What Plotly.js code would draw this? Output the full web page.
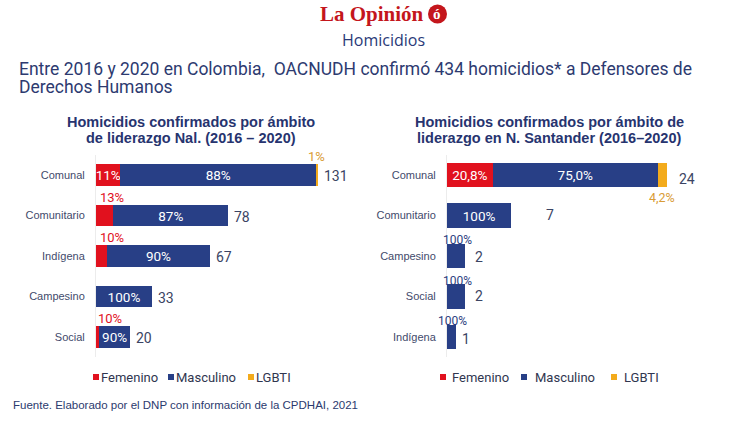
<!DOCTYPE html>
<html>
<head>
<meta charset="utf-8">
<script src="https://cdn.plot.ly/plotly-3.0.1.min.js"></script>
<style>html,body{margin:0;padding:0;background:#fff;}#chart{width:747px;height:427px;}</style>
</head>
<body>
<div id="chart"></div>
<script>
// ---- data ----
const seriesNames = ['Femenino', 'Masculino', 'LGBTI'];
const leftCats = ['Comunal', 'Comunitario', 'Indígena', 'Campesino', 'Social'];
const leftTotals = [131, 78, 67, 33, 20];
const leftFem = [11, 13, 10, 0, 10];
const leftMasc = [88, 87, 90, 100, 90];
const leftLgbti = [1, 0, 0, 0, 0];
const rightCats = ['Comunal', 'Comunitario', 'Campesino', 'Social', 'Indígena'];
const rightTotals = [24, 7, 2, 2, 1];
const rightFem = [20.8, 0, 0, 0, 0];
const rightMasc = [75.0, 100, 100, 100, 100];
const rightLgbti = [4.2, 0, 0, 0, 0];

// ---- styling ----
const W = 747, H = 427;
const px = x => x / W;
const py = y => 1 - y / H;
const RED = '#e1111e', BLUE = '#283f86', YEL = '#f3ab1c', ORANGE_TXT = '#d99c35';
const NAVY = '#27346f', TXT = '#3b4463';
const colors = [RED, BLUE, YEL];

const seg = (tot, pct) => tot.map((t, i) => t * pct[i] / 100);
const fmtL = v => v + '%';
const fmtR = v => (v === 100 ? '100%' : v.toFixed(1).replace('.', ',') + '%');

function traces(cats, totals, pcts, xa, ya, width, inside, fmt) {
  return pcts.map((p, k) => ({
    type: 'bar', orientation: 'h', name: seriesNames[k],
    y: cats, x: seg(totals, p), xaxis: xa, yaxis: ya,
    width: width,
    marker: {color: colors[k], line: {width: 0}},
    text: p.map((v, i) => inside[k].includes(i) ? fmt(v) : ''),
    textposition: 'inside', insidetextanchor: 'middle', textangle: 0,
    constraintext: 'none',
    insidetextfont: {family: 'Roboto, sans-serif', size: 13.5, color: '#ffffff'},
    hoverinfo: 'none', showlegend: false
  }));
}

const data = [
  ...traces(leftCats, leftTotals, [leftFem, leftMasc, leftLgbti], 'x', 'y', 0.54,
            [[0], [0, 1, 2, 3, 4], []], fmtL),
  ...traces(rightCats, rightTotals, [rightFem, rightMasc, rightLgbti], 'x2', 'y2', 0.6,
            [[0], [0, 1], []], fmtR)
];

const ann = [];
const A = o => ann.push(Object.assign({showarrow: false}, o));

// header
A({xref: 'paper', yref: 'paper', x: px(426), y: py(14), xanchor: 'right', yanchor: 'middle',
   text: '<b>La Opinión</b>', font: {family: 'Liberation Serif, serif', size: 21, color: '#c4161c'}});
A({xref: 'paper', yref: 'paper', x: px(437.5), y: py(14), xanchor: 'center', yanchor: 'middle',
   text: '<b>ó</b>', font: {family: 'Liberation Serif, serif', size: 15, color: '#ffffff'}});
A({xref: 'paper', yref: 'paper', x: px(383), y: py(40), xanchor: 'center', yanchor: 'middle',
   text: 'Homicidios', font: {family: 'Open Sans, sans-serif', size: 16, color: '#2a3a78'}});
const subFont = {family: 'Roboto, sans-serif', size: 17.5, color: '#2d3a70'};
A({xref: 'paper', yref: 'paper', x: px(17), y: py(69), xanchor: 'left', yanchor: 'middle',
   text: 'Entre 2016 y 2020 en Colombia,&nbsp; OACNUDH confirmó 434 homicidios* a Defensores de',
   font: subFont});
A({xref: 'paper', yref: 'paper', x: px(17), y: py(87), xanchor: 'left', yanchor: 'middle',
   text: 'Derechos Humanos', font: subFont});

// panel titles
const titleFont = {family: 'Liberation Sans, Arial, sans-serif', size: 14.5, color: NAVY};
A({xref: 'paper', yref: 'paper', x: px(191), y: py(122), xanchor: 'center', yanchor: 'middle',
   text: '<b>Homicidios confirmados por ámbito</b>', font: titleFont});
A({xref: 'paper', yref: 'paper', x: px(191), y: py(138), xanchor: 'center', yanchor: 'middle',
   text: '<b>de liderazgo Nal. (2016 – 2020)</b>', font: titleFont});
A({xref: 'paper', yref: 'paper', x: px(549), y: py(122), xanchor: 'center', yanchor: 'middle',
   text: '<b>Homicidios confirmados por ámbito de</b>', font: titleFont});
A({xref: 'paper', yref: 'paper', x: px(549), y: py(138), xanchor: 'center', yanchor: 'middle',
   text: '<b>liderazgo en N. Santander (2016–2020)</b>', font: titleFont});

// left panel labels
const totFont = {family: 'Roboto, sans-serif', size: 14, color: TXT};
leftTotals.forEach((t, i) => A({xref: 'x', yref: 'y', x: t, y: leftCats[i], xanchor: 'left',
   yanchor: 'middle', xshift: 4, yshift: -1, text: String(t), font: totFont}));
[1, 2, 4].forEach(i => A({xref: 'x', yref: 'y', x: 0, y: leftCats[i], xanchor: 'left',
   yanchor: 'bottom', xshift: i === 4 ? 0 : 2, yshift: 9, text: fmtL(leftFem[i]),
   font: {family: 'Roboto, sans-serif', size: 13, color: RED}}));
A({xref: 'x', yref: 'y', x: leftTotals[0], y: leftCats[0], xanchor: 'center', yanchor: 'bottom',
   xshift: -2, yshift: 9, text: fmtL(leftLgbti[0]),
   font: {family: 'Roboto, sans-serif', size: 13, color: ORANGE_TXT}});

// right panel labels
const rShift = [10, 33, 8, 8, 4];
const rYShift = [-4, 1, -1, 1, -2];
rightTotals.forEach((t, i) => A({xref: 'x2', yref: 'y2', x: t, y: rightCats[i], xanchor: 'left',
   yanchor: 'middle', xshift: rShift[i], yshift: rYShift[i], text: String(t), font: totFont}));
A({xref: 'x2', yref: 'y2', x: rightTotals[0] - rightTotals[0] * rightLgbti[0] / 200, y: rightCats[0],
   xanchor: 'center', yanchor: 'top', yshift: -13, text: fmtR(rightLgbti[0]),
   font: {family: 'Roboto, sans-serif', size: 12.5, color: ORANGE_TXT}});
[2, 3, 4].forEach(i => A({xref: 'x2', yref: 'y2', x: rightTotals[i] / 2, y: rightCats[i],
   xanchor: 'center', yanchor: 'bottom', xshift: 1, yshift: 7, text: fmtR(rightMasc[i]),
   font: {family: 'Roboto, sans-serif', size: 12, color: '#2b3d7e'}}));

// legends (drawn as shapes + text)
const shapes = [];
const legFont = {family: 'Roboto, sans-serif', size: 13, color: '#30364f'};
function legend(items) {
  items.forEach(([sx, tx], k) => {
    shapes.push({type: 'rect', xref: 'paper', yref: 'paper', x0: px(sx), x1: px(sx + 6),
      y0: py(380), y1: py(374), fillcolor: colors[k], line: {width: 0}});
    A({xref: 'paper', yref: 'paper', x: px(tx), y: py(377), xanchor: 'left', yanchor: 'middle',
       text: seriesNames[k], font: legFont});
  });
}
legend([[93, 99], [168, 174], [248, 254]]);
legend([[440, 450], [521, 533], [611, 622]]);

// logo circle
shapes.push({type: 'circle', xref: 'paper', yref: 'paper', x0: px(428), x1: px(447),
  y0: py(23.5), y1: py(4.5), fillcolor: '#c4161c', line: {width: 0}, layer: 'below'});

// source
A({xref: 'paper', yref: 'paper', x: px(11), y: py(405), xanchor: 'left', yanchor: 'middle',
   text: 'Fuente. Elaborado por el DNP con información de la CPDHAI, 2021',
   font: {family: 'Liberation Sans Narrow, Arial Narrow, Liberation Sans, sans-serif', size: 11.5, color: '#2b3a6e'}});

const yDom = [1 - 357.25 / H, 1 - 154.75 / H];
const yBase = {type: 'category', range: [4.5, -0.5], domain: yDom, showgrid: false,
  zeroline: false, showline: true, linecolor: '#ececec', linewidth: 1, ticks: '',
  ticklabelstandoff: 8, tickfont: {family: 'Liberation Sans, Arial, sans-serif', size: 11, color: '#3f4a6b'},
  fixedrange: true};
const xBase = {showgrid: false, zeroline: false, showline: false, showticklabels: false,
  ticks: '', fixedrange: true};

const layout = {
  width: W, height: H, margin: {l: 0, r: 0, t: 0, b: 0},
  paper_bgcolor: '#ffffff', plot_bgcolor: 'rgba(0,0,0,0)',
  barmode: 'stack', showlegend: false,
  font: {family: 'Roboto, sans-serif'},
  xaxis: Object.assign({}, xBase, {domain: [px(96), px(96 + 140 * 1.697)], range: [0, 140], anchor: 'y'}),
  yaxis: Object.assign({}, yBase, {anchor: 'x', categoryarray: leftCats}),
  xaxis2: Object.assign({}, xBase, {domain: [px(447), px(447 + 26 * 9.17)], range: [0, 26], anchor: 'y2'}),
  yaxis2: Object.assign({}, yBase, {anchor: 'x2', categoryarray: rightCats}),
  annotations: ann, shapes: shapes
};

Plotly.newPlot('chart', data, layout, {staticPlot: true, displayModeBar: false});
</script>
</body>
</html>
